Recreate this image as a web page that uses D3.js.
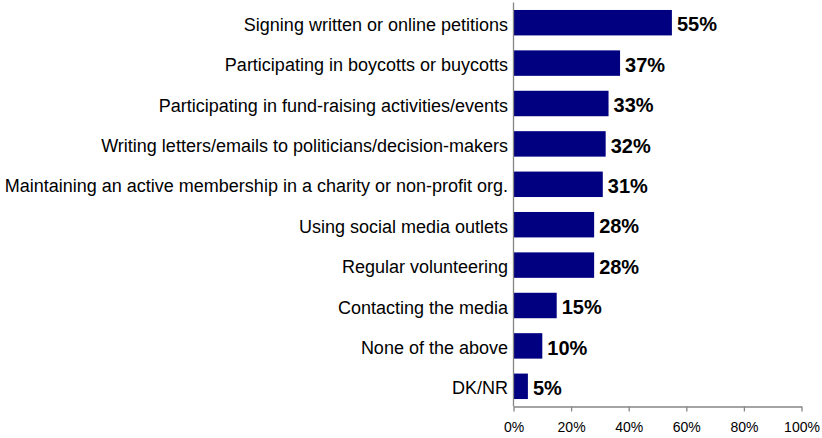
<!DOCTYPE html>
<html>
<head>
<meta charset="utf-8">
<script src="https://cdn.jsdelivr.net/npm/d3@7"></script>
<style>
  html, body { margin: 0; padding: 0; background: #ffffff; }
  svg { display: block; font-family: "Liberation Sans", Arial, sans-serif; }
</style>
</head>
<body>
<svg id="chart" width="822" height="438"></svg>
<script>
// Forms of civic engagement and share of respondents
const categories = [
  "Signing written or online petitions",
  "Participating in boycotts or buycotts",
  "Participating in fund-raising activities/events",
  "Writing letters/emails to politicians/decision-makers",
  "Maintaining an active membership in a charity or non-profit org.",
  "Using social media outlets",
  "Regular volunteering",
  "Contacting the media",
  "None of the above",
  "DK/NR"
];
const values = [55, 37, 33, 32, 31, 28, 28, 15, 10, 5];
const tickValues = [0, 20, 40, 60, 80, 100];

const svg = d3.select("#chart");
const plot = { left: 513.5, right: 801.5, top: 2.5, bottom: 406.5 };

const x = d3.scaleLinear().domain([0, 100]).range([plot.left, plot.right]);
const y = d3.scaleBand().domain(categories).range([plot.top, plot.bottom]).paddingInner(0.37).paddingOuter(0.185);

const barColor = "#000080";
const axisColor = "#868686";

// bars
svg.append("g").selectAll("rect")
  .data(values)
  .join("rect")
  .attr("x", x(0))
  .attr("y", (d, i) => y(categories[i]))
  .attr("width", d => x(d) - x(0))
  .attr("height", y.bandwidth())
  .attr("fill", barColor);

// value labels
svg.append("g").selectAll("text")
  .data(values)
  .join("text")
  .attr("x", d => x(d) + 5)
  .attr("y", (d, i) => y(categories[i]) + y.bandwidth() / 2)
  .attr("dy", "0.43em")
  .attr("font-size", "20px")
  .attr("font-weight", "bold")
  .attr("fill", "#000")
  .text(d => d + "%");

// category labels
svg.append("g").selectAll("text")
  .data(categories)
  .join("text")
  .attr("x", plot.left - 5.5)
  .attr("y", d => y(d) + y.bandwidth() / 2)
  .attr("dy", "0.45em")
  .attr("text-anchor", "end")
  .attr("font-size", "18px")
  .attr("fill", "#000")
  .text(d => d);

// vertical axis line
svg.append("line")
  .attr("x1", plot.left).attr("x2", plot.left)
  .attr("y1", plot.top).attr("y2", plot.bottom)
  .attr("stroke", axisColor).attr("stroke-width", 1.3);

// horizontal axis
const xAxis = d3.axisBottom(x)
  .tickValues(tickValues)
  .tickFormat(d => d + "%")
  .tickSize(5)
  .tickSizeOuter(0);

const gx = svg.append("g")
  .attr("transform", `translate(0,${plot.bottom})`)
  .call(xAxis);
gx.select(".domain").attr("stroke", axisColor).attr("stroke-width", 1.3);
gx.selectAll(".tick line").attr("stroke", axisColor).attr("stroke-width", 1.3);
gx.selectAll(".tick text")
  .attr("font-family", "'Liberation Sans', Arial, sans-serif")
  .attr("font-size", "14px")
  .attr("fill", "#000")
  .attr("y", 15.3);
</script>
</body>
</html>
